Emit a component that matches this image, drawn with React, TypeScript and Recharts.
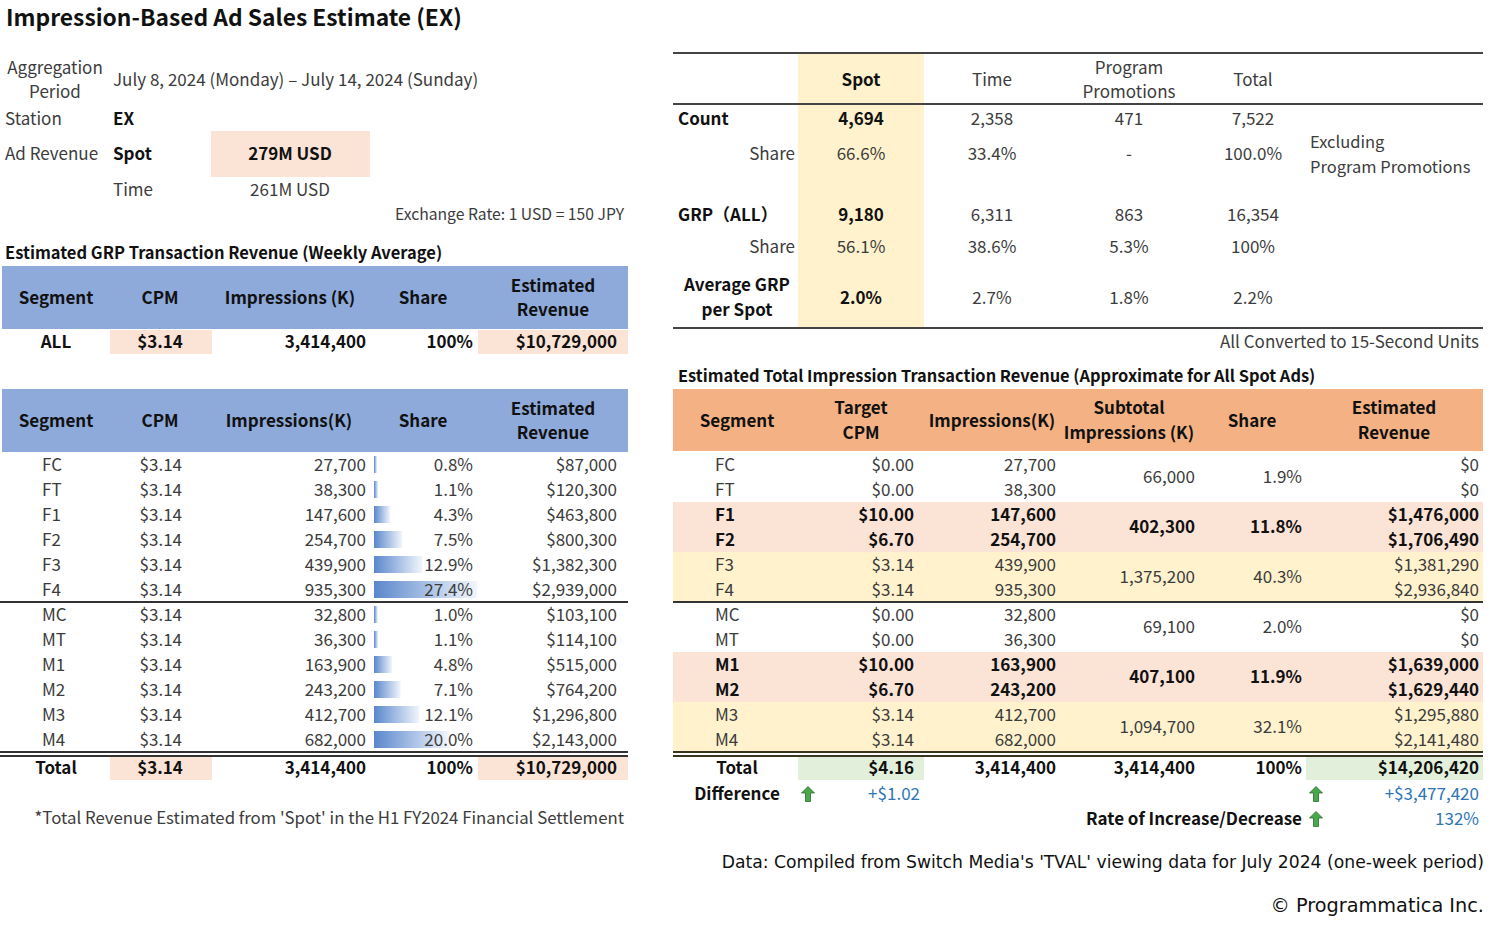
import React from 'react';
import { BarChart, Bar, XAxis, YAxis } from 'recharts';

// ---- data ----
const segments = ['FC', 'FT', 'F1', 'F2', 'F3', 'F4', 'MC', 'MT', 'M1', 'M2', 'M3', 'M4'];
const cpm = [3.14, 3.14, 3.14, 3.14, 3.14, 3.14, 3.14, 3.14, 3.14, 3.14, 3.14, 3.14];
const impressions = [27700, 38300, 147600, 254700, 439900, 935300, 32800, 36300, 163900, 243200, 412700, 682000];
const shares = [0.8, 1.1, 4.3, 7.5, 12.9, 27.4, 1.0, 1.1, 4.8, 7.1, 12.1, 20.0];
const grpRevenue = [87000, 120300, 463800, 800300, 1382300, 2939000, 103100, 114100, 515000, 764200, 1296800, 2143000];

const targetCpm = [0, 0, 10, 6.7, 3.14, 3.14, 0, 0, 10, 6.7, 3.14, 3.14];
const impRevenue = [0, 0, 1476000, 1706490, 1381290, 2936840, 0, 0, 1639000, 1629440, 1295880, 2141480];
const subtotals = [66000, 402300, 1375200, 69100, 407100, 1094700];
const subShares = ['1.9%', '11.8%', '40.3%', '2.0%', '11.9%', '32.1%'];

const adTypes = ['Spot', 'Time', 'Program Promotions', 'Total'];
const counts = [4694, 2358, 471, 7522];
const countShares = ['66.6%', '33.4%', '-', '100.0%'];
const grps = [9180, 6311, 863, 16354];
const grpShares = ['56.1%', '38.6%', '5.3%', '100%'];
const avgGrp = ['2.0%', '2.7%', '1.8%', '2.2%'];

const W = 1500;
const H = 934;
const FONT = '"Noto Sans CJK JP", "Noto Sans", sans-serif';
const GRAY = '#3c3c3c';
const BLUE_HEAD = '#8eaadb';
const PEACH = '#fbe3d6';
const ORANGE = '#f4b183';
const YELLOW = '#fff2cc';
const GREEN = '#e2efda';
const LINK = '#2e75b6';

const num = (v: number) => v.toLocaleString('en-US');
const usd = (v: number) => '$' + v.toLocaleString('en-US');
const usd2 = (v: number) => '$' + v.toFixed(2);

const T = ({ x, y, children, a = 'l', b = false, s = 17, c = GRAY, f = FONT }: any) => {
  const style: any = {
    position: 'absolute', top: y, whiteSpace: 'nowrap', fontSize: s, fontWeight: b ? 700 : 400,
    color: b && c === GRAY ? '#111' : c, fontFamily: f, lineHeight: 1,
  };
  if (a === 'l') { style.left = x; style.transform = 'translateY(-53%)'; }
  if (a === 'c') { style.left = x; style.transform = 'translate(-50%,-53%)'; style.textAlign = 'center'; }
  if (a === 'r') { style.right = W - x; style.transform = 'translateY(-53%)'; style.textAlign = 'right'; }
  return <div style={style}>{children}</div>;
};

const R = ({ x, y, w, h, bg }: any) => (
  <div style={{ position: 'absolute', left: x, top: y, width: w, height: h, background: bg }} />
);

const HLine = ({ x, y, w, t = 2, c = '#333' }: any) => (
  <div style={{ position: 'absolute', left: x, top: y, width: w, height: t, background: c }} />
);

const Arrow = ({ x, y }: any) => (
  <svg style={{ position: 'absolute', left: x - 7, top: y - 8 }} width={14} height={16}>
    <polygon points="7,0.5 13.5,7 9.5,7 9.5,15.5 4.5,15.5 4.5,7 0.5,7" fill="#49a84a" stroke="#2d6b2d" strokeWidth={0.8} />
  </svg>
);

const rowY = (i: number) => 464 + i * 25;
const shareData = segments.map((s, i) => ({ seg: s, share: shares[i] }));

const LeftSide = () => (
  <>
    <T x={6} y={18} s={22.8} b>Impression-Based Ad Sales Estimate (EX)</T>
    <T x={55} y={67} a="c">Aggregation</T>
    <T x={55} y={91} a="c">Period</T>
    <T x={113} y={79}>July 8, 2024 (Monday) – July 14, 2024 (Sunday)</T>
    <T x={5} y={118}>Station</T>
    <T x={113} y={118} b>EX</T>
    <R x={211} y={131} w={159} h={46} bg={PEACH} />
    <T x={5} y={153}>Ad Revenue</T>
    <T x={113} y={153} b>Spot</T>
    <T x={290} y={153} a="c" b>279M USD</T>
    <T x={113} y={189}>Time</T>
    <T x={290} y={189} a="c">261M USD</T>
    <T x={624} y={214} a="r" s={15.7}>Exchange Rate: 1 USD = 150 JPY</T>
    <T x={5} y={253} b s={16.5}>Estimated GRP Transaction Revenue (Weekly Average)</T>

    {/* first header */}
    <R x={2} y={266} w={626} h={63} bg={BLUE_HEAD} />
    <T x={56} y={297} a="c" b>Segment</T>
    <T x={160} y={297} a="c" b>CPM</T>
    <T x={290} y={297} a="c" b>Impressions (K)</T>
    <T x={423} y={297} a="c" b>Share</T>
    <T x={553} y={285} a="c" b>Estimated</T>
    <T x={553} y={309} a="c" b>Revenue</T>
    <R x={110} y={330} w={102} h={24} bg={PEACH} />
    <R x={478} y={330} w={150} h={24} bg={PEACH} />
    <T x={56} y={341} a="c" b>ALL</T>
    <T x={160} y={341} a="c" b>{usd2(3.14)}</T>
    <T x={366} y={341} a="r" b>{num(3414400)}</T>
    <T x={473} y={341} a="r" b>100%</T>
    <T x={617} y={341} a="r" b>{usd(10729000)}</T>

    {/* second header */}
    <R x={2} y={389} w={626} h={63} bg={BLUE_HEAD} />
    <T x={56} y={420} a="c" b>Segment</T>
    <T x={160} y={420} a="c" b>CPM</T>
    <T x={289} y={420} a="c" b>Impressions(K)</T>
    <T x={423} y={420} a="c" b>Share</T>
    <T x={553} y={408} a="c" b>Estimated</T>
    <T x={553} y={432} a="c" b>Revenue</T>

    <div style={{ position: 'absolute', left: 374, top: 452 }}>
      <BarChart width={103} height={300} data={shareData} layout="vertical"
        margin={{ top: 0, right: 0, bottom: 0, left: 0 }} barCategoryGap={4}>
        <defs>
          <linearGradient id="shareGrad" x1="0" y1="0" x2="1" y2="0">
            <stop offset="0%" stopColor="#5a87cc" />
            <stop offset="100%" stopColor="#f2f6fc" />
          </linearGradient>
        </defs>
        <XAxis type="number" domain={[0, 27.4]} hide />
        <YAxis type="category" dataKey="seg" hide />
        <Bar dataKey="share" fill="url(#shareGrad)" isAnimationActive={false} />
      </BarChart>
    </div>

    {segments.map((s, i) => (
      <React.Fragment key={s}>
        <T x={42} y={rowY(i)}>{s}</T>
        <T x={182} y={rowY(i)} a="r">{usd2(cpm[i])}</T>
        <T x={366} y={rowY(i)} a="r">{num(impressions[i])}</T>
        <T x={473} y={rowY(i)} a="r">{shares[i].toFixed(1)}%</T>
        <T x={617} y={rowY(i)} a="r">{usd(grpRevenue[i])}</T>
      </React.Fragment>
    ))}
    <HLine x={0} y={601} w={628} />
    <HLine x={0} y={751} w={628} />
    <HLine x={0} y={755} w={628} />
    <R x={110} y={757} w={102} h={23} bg={PEACH} />
    <R x={478} y={757} w={150} h={23} bg={PEACH} />
    <T x={56} y={767} a="c" b>Total</T>
    <T x={160} y={767} a="c" b>{usd2(3.14)}</T>
    <T x={366} y={767} a="r" b>{num(3414400)}</T>
    <T x={473} y={767} a="r" b>100%</T>
    <T x={617} y={767} a="r" b>{usd(10729000)}</T>
    <T x={624} y={818} a="r" s={16.8}>*Total Revenue Estimated from 'Spot' in the H1 FY2024 Financial Settlement</T>
  </>
);

const colX = [861, 992, 1129, 1253];

const RightTop = () => (
  <>
    <HLine x={673} y={52} w={810} c="#444" />
    <R x={798} y={54} w={126} h={273} bg={YELLOW} />
    <T x={colX[0]} y={79} a="c" b>{adTypes[0]}</T>
    <T x={colX[1]} y={79} a="c">{adTypes[1]}</T>
    <T x={colX[2]} y={67} a="c">Program</T>
    <T x={colX[2]} y={91} a="c">Promotions</T>
    <T x={colX[3]} y={79} a="c">{adTypes[3]}</T>
    <HLine x={673} y={103} w={810} c="#444" />

    <T x={678} y={118} b>Count</T>
    {counts.map((v, i) => <T key={i} x={colX[i]} y={118} a="c" b={i === 0}>{num(v)}</T>)}
    <T x={795} y={153} a="r">Share</T>
    {countShares.map((v, i) => <T key={i} x={colX[i]} y={153} a="c">{v}</T>)}
    <T x={1310} y={142} s={16.5}>Excluding</T>
    <T x={1310} y={167} s={16.5}>Program Promotions</T>

    <T x={678} y={214} b>GRP（ALL）</T>
    {grps.map((v, i) => <T key={i} x={colX[i]} y={214} a="c" b={i === 0}>{num(v)}</T>)}
    <T x={795} y={246} a="r">Share</T>
    {grpShares.map((v, i) => <T key={i} x={colX[i]} y={246} a="c">{v}</T>)}

    <T x={737} y={284} a="c" b>Average GRP</T>
    <T x={737} y={309} a="c" b>per Spot</T>
    {avgGrp.map((v, i) => <T key={i} x={colX[i]} y={297} a="c" b={i === 0}>{v}</T>)}
    <HLine x={673} y={327} w={810} c="#444" />
    <T x={1479} y={341} a="r">All Converted to 15-Second Units</T>
  </>
);

const RightBottom = () => (
  <>
    <T x={678} y={376} b s={16.4}>Estimated Total Impression Transaction Revenue (Approximate for All Spot Ads)</T>
    <R x={673} y={389} w={810} h={62} bg={ORANGE} />
    <T x={737} y={420} a="c" b>Segment</T>
    <T x={861} y={407} a="c" b>Target</T>
    <T x={861} y={432} a="c" b>CPM</T>
    <T x={992} y={420} a="c" b>Impressions(K)</T>
    <T x={1129} y={407} a="c" b>Subtotal</T>
    <T x={1129} y={432} a="c" b>Impressions (K)</T>
    <T x={1252} y={420} a="c" b>Share</T>
    <T x={1394} y={407} a="c" b>Estimated</T>
    <T x={1394} y={432} a="c" b>Revenue</T>

    <R x={673} y={502} w={810} h={50} bg={PEACH} />
    <R x={673} y={552} w={810} h={50} bg={YELLOW} />
    <R x={673} y={652} w={810} h={50} bg={PEACH} />
    <R x={673} y={702} w={810} h={50} bg={YELLOW} />

    {segments.map((s, i) => {
      const b = i === 2 || i === 3 || i === 8 || i === 9;
      return (
        <React.Fragment key={s}>
          <T x={715} y={rowY(i)} b={b}>{s}</T>
          <T x={914} y={rowY(i)} a="r" b={b}>{usd2(targetCpm[i])}</T>
          <T x={1056} y={rowY(i)} a="r" b={b}>{num(impressions[i])}</T>
          <T x={1479} y={rowY(i)} a="r" b={b}>{usd(impRevenue[i])}</T>
        </React.Fragment>
      );
    })}
    {subtotals.map((v, k) => {
      const b = k === 1 || k === 4;
      const y = rowY(k * 2) + 12;
      return (
        <React.Fragment key={k}>
          <T x={1195} y={y} a="r" b={b}>{num(v)}</T>
          <T x={1302} y={y} a="r" b={b}>{subShares[k]}</T>
        </React.Fragment>
      );
    })}
    <HLine x={673} y={601} w={810} />
    <HLine x={673} y={751} w={810} c="#3a3520" />
    <HLine x={673} y={755} w={810} c="#3a3520" />

    <R x={798} y={757} w={126} h={23} bg={GREEN} />
    <R x={1306} y={757} w={177} h={23} bg={GREEN} />
    <T x={737} y={767} a="c" b>Total</T>
    <T x={914} y={767} a="r" b>{usd2(4.16)}</T>
    <T x={1056} y={767} a="r" b>{num(3414400)}</T>
    <T x={1195} y={767} a="r" b>{num(3414400)}</T>
    <T x={1302} y={767} a="r" b>100%</T>
    <T x={1479} y={767} a="r" b>{usd(14206420)}</T>

    <T x={737} y={793} a="c" b>Difference</T>
    <Arrow x={808} y={794} />
    <T x={920} y={793} a="r" c={LINK}>+{usd2(1.02)}</T>
    <Arrow x={1316} y={794} />
    <T x={1479} y={793} a="r" c={LINK}>+{usd(3477420)}</T>
    <T x={1302} y={818} a="r" b>Rate of Increase/Decrease</T>
    <Arrow x={1316} y={819} />
    <T x={1479} y={818} a="r" c={LINK}>132%</T>

    <T x={1484} y={863} a="r" s={17.2} c="#111" f='"DejaVu Sans", sans-serif'>
      Data: Compiled from Switch Media's 'TVAL' viewing data for July 2024 (one-week period)
    </T>
    <T x={1484} y={906} a="r" s={19.3} c="#111" f='"DejaVu Sans", sans-serif'>© Programmatica Inc.</T>
  </>
);

export default function App() {
  return (
    <div style={{ position: 'absolute', left: 0, top: 0, width: W, height: H, background: '#fff', overflow: 'hidden', fontFamily: FONT }}>
      <LeftSide />
      <RightTop />
      <RightBottom />
    </div>
  );
}
